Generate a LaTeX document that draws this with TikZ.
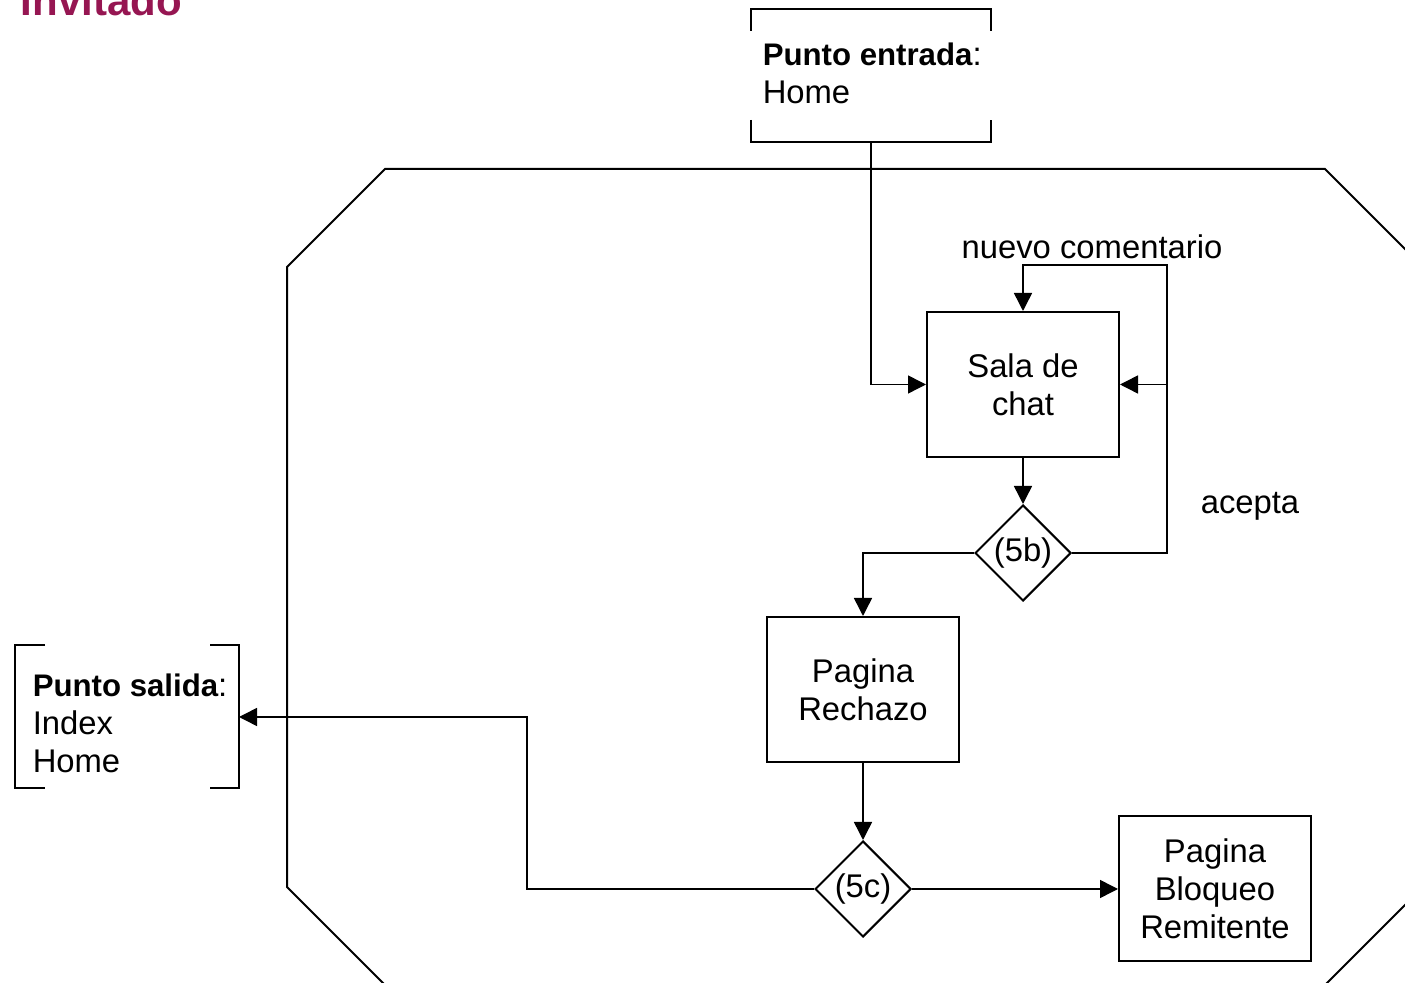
\documentclass[tikz,border=0pt]{standalone}
\usepackage{fontspec}
\setmainfont{Liberation Sans}
\usetikzlibrary{arrows.meta,shapes.geometric}

\definecolor{invitado}{RGB}{150,22,82}
\newcommand{\negrita}[1]{{\fontsize{15.6}{19}\selectfont\bfseries #1}}

\begin{document}
\begin{tikzpicture}[x=0.5pt,y=-0.5pt,->,>={Triangle[length=9pt,width=9pt]},line width=0.75pt,
  font=\fontsize{16.4}{19}\selectfont]
  \tikzstyle{pagina}=[draw,rectangle,line width=1pt,minimum width=96pt,minimum height=72.5pt,align=center,inner sep=0pt]
  \tikzstyle{decision}=[draw,diamond,line width=1pt,minimum width=48pt,minimum height=48pt,inner sep=0pt]
  \tikzstyle{marco}=[-,line width=1pt]
  \tikzstyle{texto}=[align=left,inner sep=0pt,anchor=north west]

  \useasboundingbox (0,0) rectangle (1405,983);
  \clip (0,0) rectangle (1405,983);

  % titulo cortado
  \node[anchor=base west,inner sep=0pt,text=invitado,font=\fontsize{21}{25}\selectfont\bfseries] (titulo) at (20,16) {Invitado};

  % octagono
  \draw[marco] (385,169) -- (1325,169) -- (1423,267) -- (1423,887) -- (1325,985)
    -- (385,985) -- (287,887) -- (287,267) -- cycle;

  % punto de entrada
  \draw[marco] (751,31) -- (751,9) -- (991,9) -- (991,31);
  \draw[marco] (751,120) -- (751,142) -- (991,142) -- (991,120);
  \node[texto] (txtentrada) at (762,42) {\negrita{Punto entrada}:\\Home};
  \coordinate (entrada) at (871,142);

  % punto de salida
  \draw[marco] (45,645) -- (15,645) -- (15,788) -- (45,788);
  \draw[marco] (210,645) -- (239,645) -- (239,788) -- (210,788);
  \node[texto] (txtsalida) at (32,673) {\negrita{Punto salida}:\\Index\\Home};
  \coordinate (salida) at (239,717);

  \node[pagina]   (sala)    at (1023,384.5) {Sala de\\chat};
  \node[decision] (d5b)     at (1023,553)   {(5b)};
  \node[pagina]   (rechazo) at (863,689.5)  {Pagina\\Rechazo};
  \node[decision] (d5c)     at (863,889)    {(5c)};
  \node[pagina]   (bloqueo) at (1215,889)   {Pagina\\Bloqueo\\Remitente};

  \coordinate (vuelta) at (1167,384.5);
  \coordinate (lazo)   at (1167,265);
  \coordinate (codo)   at (527,717);

  \node (nuevo)  at (1092,247) {nuevo comentario};
  \node (acepta) at (1250,506) {acepta};

  \draw (entrada) |- (sala);
  \draw (sala) -- (d5b);
  \draw (d5b) -| (rechazo);
  \draw (d5b) -| (vuelta) -- (sala);
  \draw (vuelta) -- (lazo) -| (sala);
  \draw (rechazo) -- (d5c);
  \draw (d5c) -- (bloqueo);
  \draw (d5c) -| (codo) -- (salida);
\end{tikzpicture}
\end{document}
